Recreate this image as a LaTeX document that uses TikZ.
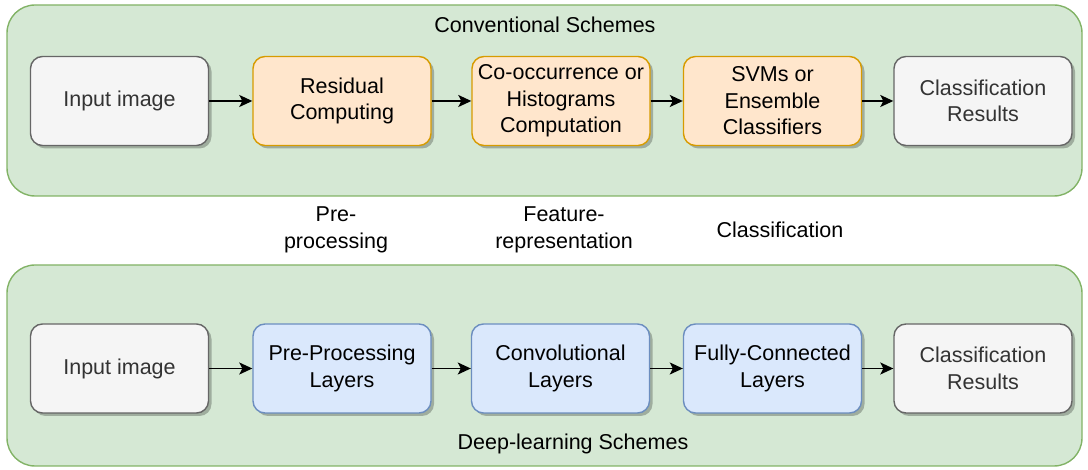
\documentclass[tikz,border=0pt]{standalone}
\usepackage{fontspec}
\setmainfont{Liberation Sans}
\usetikzlibrary{arrows.meta,shadows}
\definecolor{grpfill}{HTML}{D5E8D4}
\definecolor{grpline}{HTML}{82B366}
\definecolor{orfill}{HTML}{FFE6CC}
\definecolor{orline}{HTML}{D79B00}
\definecolor{blfill}{HTML}{DAE8FC}
\definecolor{blline}{HTML}{6C8EBF}
\definecolor{gyfill}{HTML}{F5F5F5}
\definecolor{gyline}{HTML}{666666}
\definecolor{gytext}{HTML}{333333}
\tikzset{
  txt/.style={font=\fontsize{21.5}{26.5}\selectfont, align=center},
  group/.style={draw=grpline, fill=grpfill, line width=1.4pt, rounded corners=28pt},
  box/.style={txt, rounded corners=12pt, line width=1.4pt, minimum width=178pt, minimum height=89pt, inner sep=0pt,
    drop shadow={shadow xshift=3pt, shadow yshift=-3pt, fill=black, opacity=0.25}},
  grey/.style={box, draw=gyline, fill=gyfill, text=gytext},
  orange/.style={box, draw=orline, fill=orfill},
  blue/.style={box, draw=blline, fill=blfill},
  arr/.style={-{Stealth[length=13pt,width=12pt,inset=3pt]}, line width=1.5pt}
}
\begin{document}
\begin{tikzpicture}[x=1pt,y=-1pt]
\useasboundingbox (0,0) rectangle (1088,470);
% containers
\draw[group] (7,5) rectangle (1082,196);
\draw[group] (7,265) rectangle (1082,466);
\node[txt] (ttop) at (545,25) {Conventional Schemes};
\node[txt] (tbot) at (573,444) {Deep-learning Schemes};
% conventional pipeline
\node[grey]   (a1) at (119.5,101) {Input image};
\node[orange] (a2) at (342,101) {Residual\\Computing};
\node[orange] (a3) at (561,101) {Co-occurrence or\\Histograms\\Computation};
\node[orange] (a4) at (772.5,101) {SVMs or\\Ensemble\\Classifiers};
\node[grey]   (a5) at (983,101) {Classification\\Results};
\draw[arr] (a1) -- (a2);
\draw[arr] (a2) -- (a3);
\draw[arr] (a3) -- (a4);
\draw[arr] (a4) -- (a5);
% stage labels
\node[txt] (l1) at (336,230) {Pre-\\processing};
\node[txt] (l2) at (564,230) {Feature-\\representation};
\node[txt] (l3) at (780,230) {Classification};
% deep-learning pipeline
\node[grey] (b1) at (119.5,368.5) {Input image};
\node[blue] (b2) at (342,368.5) {Pre-Processing\\Layers};
\node[blue] (b3) at (560.5,368.5) {Convolutional\\Layers};
\node[blue] (b4) at (772.5,368.5) {Fully-Connected\\Layers};
\node[grey] (b5) at (983,368.5) {Classification\\Results};
\draw[arr] (b1) -- (b2);
\draw[arr] (b2) -- (b3);
\draw[arr] (b3) -- (b4);
\draw[arr] (b4) -- (b5);
\end{tikzpicture}
\end{document}
